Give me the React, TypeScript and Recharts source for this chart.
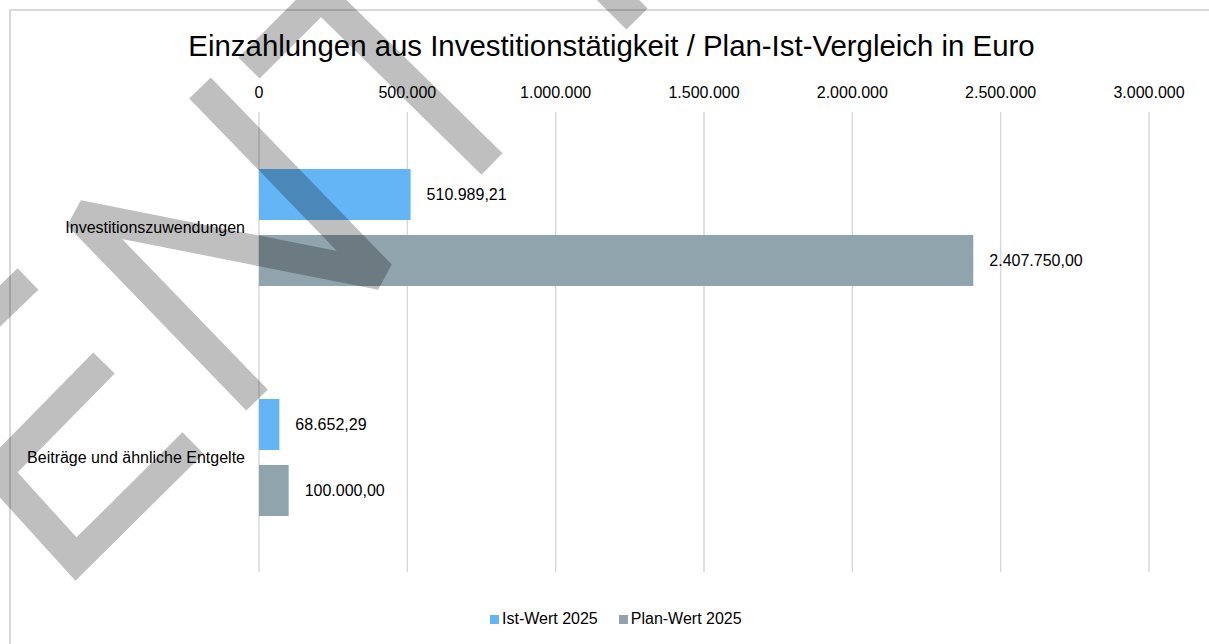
import React from 'react';
import { BarChart, Bar, XAxis, YAxis, CartesianGrid, LabelList } from 'recharts';

// chart values
const categories = ['Investitionszuwendungen', 'Beiträge und ähnliche Entgelte'];
const istWert2025 = [510989.21, 68652.29];
const planWert2025 = [2407750.0, 100000.0];
const xTicks = [0, 500000, 1000000, 1500000, 2000000, 2500000, 3000000];

const SERIES = [
  { key: 'ist', name: 'Ist-Wert 2025', color: '#64B5F6' },
  { key: 'plan', name: 'Plan-Wert 2025', color: '#90A4AE' },
];

const FONT = '"Liberation Sans", Arial, sans-serif';
const TITLE = 'Einzahlungen aus Investitionstätigkeit / Plan-Ist-Vergleich in Euro';

// "ENTWURF" draft stamp, drawn as thick strokes over the chart (only E, N, T and part of W are on screen)
const WATERMARK =
  'M28,279 L-82,385 L76,559 L193,443 M-3,472 L104,363 ' +
  'M257,400 L78,215 L381,275 L200,88 ' +
  'M249,68 L423,-106 M321,-4 L492,164 ' +
  'M637,19 L560,-58';

// German number format: 2.407.750,00
function formatDe(v: number, decimals: number) {
  const fixed = Number(v).toFixed(decimals);
  const [int, frac] = fixed.split('.');
  const intFmt = int.replace(/\B(?=(\d{3})+(?!\d))/g, '.');
  return frac ? intFmt + ',' + frac : intFmt;
}

export default function App() {
  const data = categories.map((name, i) => ({
    name,
    ist: istWert2025[i],
    plan: planWert2025[i],
  }));

  return (
    <div
      style={{
        position: 'absolute',
        left: 0,
        top: 0,
        width: 1209,
        height: 644,
        overflow: 'hidden',
        background: '#fff',
        fontFamily: FONT,
      }}
    >
      {/* chart frame, only its top and left edges are inside the picture */}
      <div
        style={{
          position: 'absolute',
          left: 9,
          top: 9,
          width: 1300,
          height: 700,
          borderTop: '2px solid #d9d9d9',
          borderLeft: '2px solid #d9d9d9',
        }}
      />

      <div style={{ position: 'absolute', left: 0, top: 0 }}>
        <BarChart
          width={1209}
          height={644}
          data={data}
          layout="vertical"
          margin={{ top: 70, right: 60, bottom: 72, left: 0 }}
          barSize={51}
          barGap={15}
        >
          <CartesianGrid horizontal={false} stroke="#d9d9d9" strokeWidth={1.5} />
          <XAxis
            type="number"
            orientation="top"
            domain={[0, 3000000]}
            ticks={xTicks}
            interval={0}
            height={42}
            tickSize={0}
            tickMargin={14}
            axisLine={false}
            tickLine={false}
            tick={{ fill: '#000', fontSize: 16 }}
            tickFormatter={(v: number) => formatDe(v, 0)}
          />
          <YAxis
            type="category"
            dataKey="name"
            width={259}
            interval={0}
            tickSize={0}
            tickMargin={14}
            axisLine={false}
            tickLine={false}
            tick={{ fill: '#000', fontSize: 16 }}
          />
          {SERIES.map((s) => (
            <Bar key={s.key} dataKey={s.key} name={s.name} fill={s.color} isAnimationActive={false}>
              <LabelList
                dataKey={s.key}
                position="right"
                offset={16}
                fill="#000"
                fontSize={16}
                formatter={(v: number) => formatDe(v, 2)}
              />
            </Bar>
          ))}
        </BarChart>
      </div>

      {/* legend */}
      <div
        style={{
          position: 'absolute',
          left: 490,
          top: 610,
          display: 'flex',
          alignItems: 'center',
          fontSize: 16,
          lineHeight: '18px',
          color: '#000',
          whiteSpace: 'nowrap',
        }}
      >
        {SERIES.map((s, i) => (
          <div key={s.key} style={{ display: 'flex', alignItems: 'center', marginRight: i === 0 ? 21 : 0 }}>
            <span style={{ display: 'inline-block', width: 9, height: 9, background: s.color, marginRight: 3 }} />
            <span>{s.name}</span>
          </div>
        ))}
      </div>

      {/* title and draft stamp on top */}
      <svg
        width={1209}
        height={644}
        style={{ position: 'absolute', left: 0, top: 0, pointerEvents: 'none' }}
      >
        <text x={611.5} y={55.5} textAnchor="middle" fontSize={29.4} fill="#000">
          {TITLE}
        </text>
        <g opacity={0.25}>
          <path
            d={WATERMARK}
            fill="none"
            stroke="#000"
            strokeWidth={30}
            strokeLinecap="butt"
            strokeLinejoin="miter"
            strokeMiterlimit={1.5}
          />
        </g>
      </svg>
    </div>
  );
}
